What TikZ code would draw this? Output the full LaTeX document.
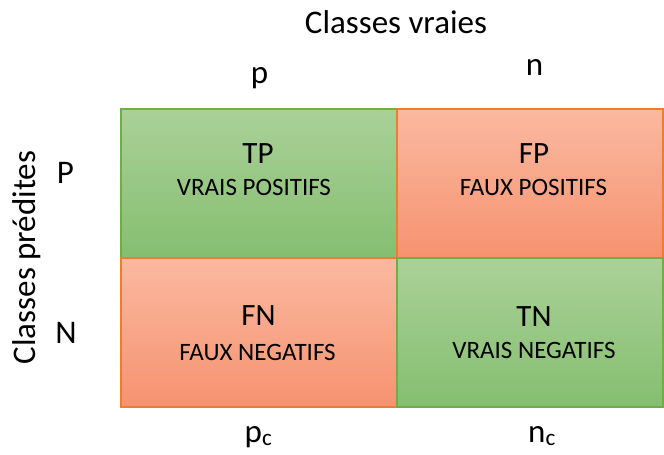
\documentclass[tikz,border=0pt]{standalone}
\usepackage{fontspec}
\setmainfont{Carlito}
\definecolor{gtop}{RGB}{170,209,152}
\definecolor{gbot}{RGB}{133,190,112}
\definecolor{gline}{RGB}{112,173,71}
\definecolor{rtop}{RGB}{250,185,160}
\definecolor{rbot}{RGB}{246,146,112}
\definecolor{rline}{RGB}{237,125,49}
\begin{document}
\begin{tikzpicture}[x=1pt,y=-1pt,
  cellg/.style={top color=gtop,bottom color=gbot,draw=gline,line width=1.5pt},
  cellr/.style={top color=rtop,bottom color=rbot,draw=rline,line width=1.5pt},
  big/.style={anchor=base,inner sep=0pt,font=\fontsize{31}{33}\selectfont},
  small/.style={anchor=base,inner sep=0pt,font=\fontsize{25}{27}\selectfont},
  lab/.style={anchor=base,inner sep=0pt,font=\fontsize{33}{35}\selectfont}]
\useasboundingbox (0,0) rectangle (664,455);
\path[cellg] (121,109) rectangle (397,258);
\path[cellr] (397,109) rectangle (663,258);
\path[cellr] (121,258) rectangle (397,407);
\path[cellg] (397,258) rectangle (663,407);
\node[big] (tp) at (258,163) {TP};
\node[small] (tpl) at (254,195) {VRAIS POSITIFS};
\node[big] (fp) at (534,163) {FP};
\node[small] (fpl) at (533.5,195) {FAUX POSITIFS};
\node[big] (fn) at (258.5,325) {FN};
\node[small] (fnl) at (257.5,360) {FAUX NEGATIFS};
\node[big] (tn) at (534,326) {TN};
\node[small] (tnl) at (534,358) {VRAIS NEGATIFS};
\node[lab] (cv) at (396,33) {Classes vraies};
\node[lab] (p) at (259.5,83) {p};
\node[lab] (n) at (534.5,75) {n};
\node[lab] (P) at (65.5,183) {P};
\node[lab] (N) at (66,343) {N};
\node[lab,rotate=90] (cp) at (35.5,257.5) {Classes prédites};
\node[lab] (pc) at (258.5,442) {p\textsubscript{c}};
\node[lab] (nc) at (542,442) {n\textsubscript{c}};
\end{tikzpicture}
\end{document}
